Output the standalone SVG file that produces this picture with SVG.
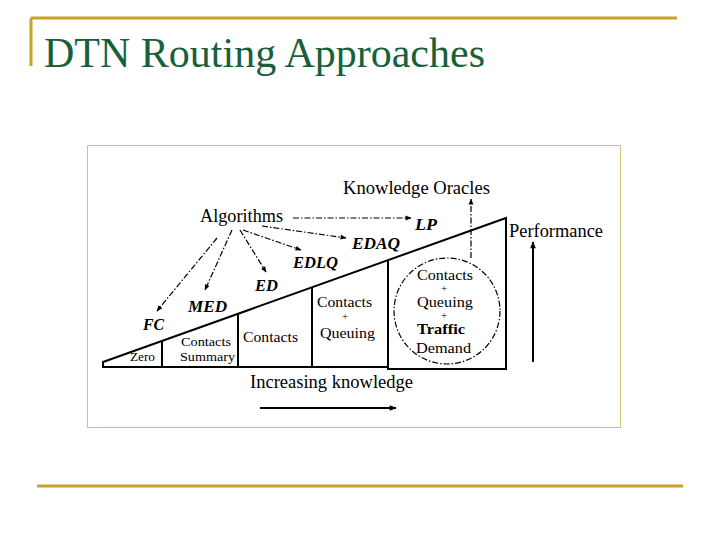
<svg xmlns="http://www.w3.org/2000/svg" width="720" height="540" viewBox="0 0 720 540">
<defs>
<style>
.t{font-family:"Liberation Serif","Times New Roman",serif;fill:#000}
.lab{font-family:"Liberation Serif","Times New Roman",serif;font-weight:bold;font-style:italic;font-size:16px;fill:#000}
.s{stroke:#000;stroke-width:2;fill:none}
.dd{stroke:#000;stroke-width:1.2;fill:none;stroke-dasharray:6 2 1.5 2}
</style>
<marker id="ah" viewBox="0 0 10 10" refX="9" refY="5" markerWidth="7" markerHeight="6" orient="auto" markerUnits="userSpaceOnUse"><path d="M0,1 L10,5 L0,9 z" fill="#000"/></marker>
<marker id="ah2" viewBox="0 0 10 10" refX="9" refY="5" markerWidth="9" markerHeight="7" orient="auto" markerUnits="userSpaceOnUse"><path d="M0,1 L10,5 L0,9 z" fill="#000"/></marker>
</defs>
<rect width="720" height="540" fill="#fff"/>
<g id="title">
<path d="M31,18 H677 M31,18 V66" stroke="#c9a227" stroke-width="3" fill="none"/>
<text x="44" y="67" font-family="Liberation Serif, Times New Roman, serif" font-size="42" fill="#17603a" textLength="441" lengthAdjust="spacingAndGlyphs">DTN Routing Approaches</text>
<path d="M37,486 H683" stroke="#c9a227" stroke-width="3"/>
</g>
<rect x="87.5" y="145.5" width="533" height="282" fill="#fff" stroke="#d6c37a" stroke-width="1"/>
<g id="wedge">
<path class="s" d="M103,362 L506,218 V369 H388 V367 H103 Z" stroke-width="1.8"/>
<path class="s" d="M162,341 V367 M238,314 V367 M312,287 V367 M388,260 V367" stroke-width="1.8"/>
<circle cx="447" cy="311" r="53" class="dd" stroke-width="1"/>
</g>
<g id="regions">
<text class="t" x="130" y="361" font-size="13" textLength="25" lengthAdjust="spacingAndGlyphs">Zero</text>
<text class="t" x="181" y="346" font-size="13" textLength="50" lengthAdjust="spacingAndGlyphs">Contacts</text>
<text class="t" x="180" y="361" font-size="13" textLength="55" lengthAdjust="spacingAndGlyphs">Summary</text>
<text class="t" x="243" y="342" font-size="15.5" textLength="55" lengthAdjust="spacingAndGlyphs">Contacts</text>
<text class="t" x="317" y="307" font-size="15.5" textLength="55" lengthAdjust="spacingAndGlyphs">Contacts</text>
<text class="t" x="345" y="320" font-size="11" text-anchor="middle">+</text>
<text class="t" x="320" y="338" font-size="15.5" textLength="55" lengthAdjust="spacingAndGlyphs">Queuing</text>
<text class="t" x="417" y="280" font-size="15.5" textLength="56" lengthAdjust="spacingAndGlyphs">Contacts</text>
<text class="t" x="444" y="292" font-size="11" text-anchor="middle">+</text>
<text class="t" x="417" y="307" font-size="15.5" textLength="56" lengthAdjust="spacingAndGlyphs">Queuing</text>
<text class="t" x="444" y="319" font-size="11" text-anchor="middle">+</text>
<text class="t" x="417" y="334" font-size="15.5" font-weight="bold" textLength="48" lengthAdjust="spacingAndGlyphs">Traffic</text>
<text class="t" x="416" y="353" font-size="15.5" textLength="55" lengthAdjust="spacingAndGlyphs">Demand</text>
</g>
<g id="labels">
<text class="t" x="200" y="222" font-size="18.5" textLength="83" lengthAdjust="spacingAndGlyphs">Algorithms</text>
<text class="t" x="343" y="194" font-size="18.5" textLength="147" lengthAdjust="spacingAndGlyphs">Knowledge Oracles</text>
<text class="t" x="509" y="237" font-size="18.5" textLength="94" lengthAdjust="spacingAndGlyphs">Performance</text>
<text class="t" x="250" y="388" font-size="18.5" textLength="163" lengthAdjust="spacingAndGlyphs">Increasing knowledge</text>
<text class="lab" x="415" y="230" textLength="22" lengthAdjust="spacingAndGlyphs">LP</text>
<text class="lab" x="352" y="249" textLength="48" lengthAdjust="spacingAndGlyphs">EDAQ</text>
<text class="lab" x="293" y="268" textLength="45" lengthAdjust="spacingAndGlyphs">EDLQ</text>
<text class="lab" x="255" y="291" textLength="23" lengthAdjust="spacingAndGlyphs">ED</text>
<text class="lab" x="188" y="312" textLength="39" lengthAdjust="spacingAndGlyphs">MED</text>
<text class="lab" x="143" y="330" textLength="21" lengthAdjust="spacingAndGlyphs">FC</text>
</g>
<g id="connectors">
<path class="dd" d="M293,218 H411" marker-end="url(#ah)"/>
<path class="dd" d="M262,226 L346,238" marker-end="url(#ah)"/>
<path class="dd" d="M243,230 L301,250" marker-end="url(#ah)"/>
<path class="dd" d="M240,230 L266,272" marker-end="url(#ah)"/>
<path class="dd" d="M232,230 L205,290" marker-end="url(#ah)"/>
<path class="dd" d="M217,238 L157,311" marker-end="url(#ah)"/>
<path class="dd" d="M471,258 V199" stroke-width="1.5" stroke-dasharray="5 2" marker-end="url(#ah)"/>
<path d="M533,362 V242" stroke="#000" stroke-width="2" marker-end="url(#ah2)"/>
<path d="M260,408 H396" stroke="#000" stroke-width="2" marker-end="url(#ah2)"/>
</g>
</svg>
